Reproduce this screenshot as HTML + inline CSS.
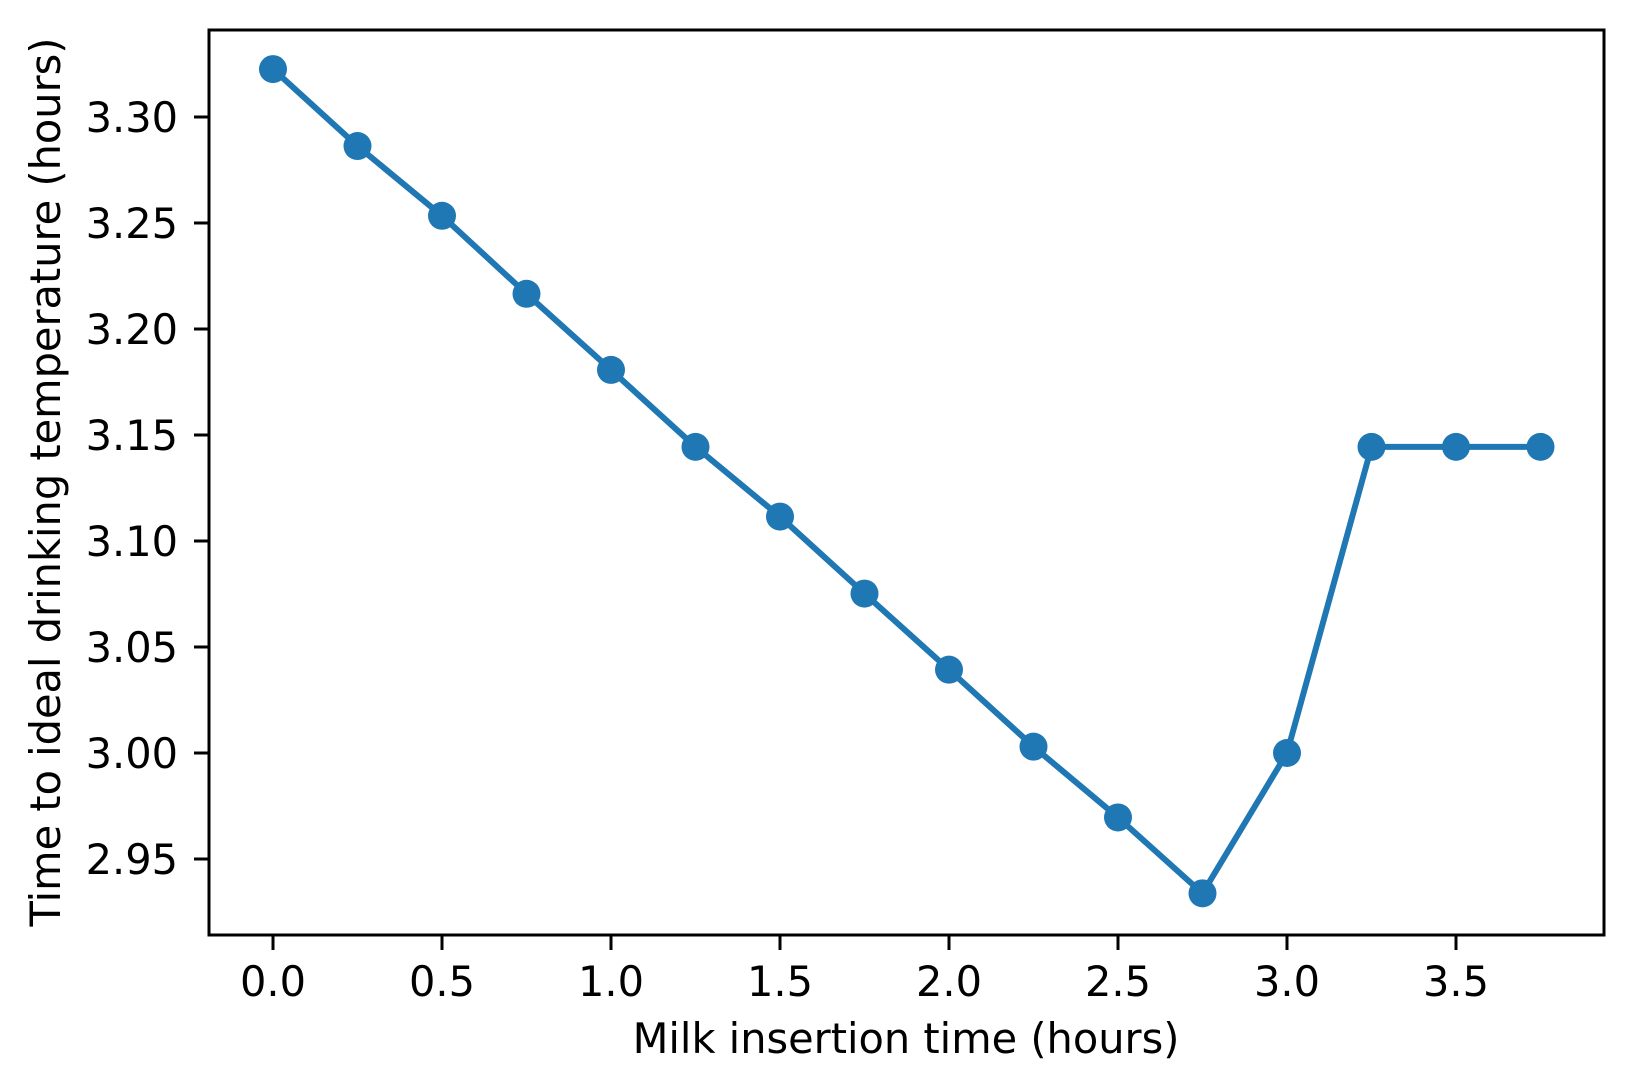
<!DOCTYPE html>
<html><head><meta charset="utf-8"><style>
body{margin:0;background:#fff;}
svg{display:block;font-family:"DejaVu Sans","Liberation Sans",sans-serif;}
</style></head><body>
<svg id="chart" width="1633" height="1091" viewBox="0 0 1633 1091" xmlns="http://www.w3.org/2000/svg">
<rect width="1633" height="1091" fill="#fff"/>
<g id="ticks"></g>
<g id="series"></g>
<rect x="209" y="30" width="1395" height="905" fill="none" stroke="#000" stroke-width="3"/>
<text x="906" y="1053" font-size="41.5" text-anchor="middle">Milk insertion time (hours)</text>
<text transform="translate(60,482) rotate(-90)" font-size="41.5" text-anchor="middle">Time to ideal drinking temperature (hours)</text>
</svg>
<script>
const xValues=[0,0.25,0.5,0.75,1.0,1.25,1.5,1.75,2.0,2.25,2.5,2.75,3.0,3.25,3.5,3.75];
const yValues=[3.3226,3.2863,3.2534,3.2166,3.1807,3.1444,3.1115,3.0752,3.0393,3.003,2.9696,2.9338,3.0,3.1444,3.1444,3.1444];
const xTicks=[0,0.5,1.0,1.5,2.0,2.5,3.0,3.5];
const xTickLabels=["0.0","0.5","1.0","1.5","2.0","2.5","3.0","3.5"];
const yTicks=[2.95,3.00,3.05,3.10,3.15,3.20,3.25,3.30];
const yTickLabels=["2.95","3.00","3.05","3.10","3.15","3.20","3.25","3.30"];
const NS="http://www.w3.org/2000/svg";
function sx(v){return 273+v*338;}
function sy(v){return 117+(3.30-v)*(859-117)/0.35;}
const tg=document.getElementById('ticks');
xTicks.forEach((t,i)=>{
  const l=document.createElementNS(NS,'line');
  
  
  l.setAttribute('x1',sx(t));l.setAttribute('x2',sx(t));l.setAttribute('y1',935);l.setAttribute('y2',950);
  l.setAttribute('stroke','#000');l.setAttribute('stroke-width','3');tg.appendChild(l);
  const tx=document.createElementNS(NS,'text');
  
  
  tx.setAttribute('x',sx(t));tx.setAttribute('y',996);tx.setAttribute('font-size','41.5');tx.setAttribute('text-anchor','middle');
  tx.textContent=xTickLabels[i];tg.appendChild(tx);
});
yTicks.forEach((t,i)=>{
  const l=document.createElementNS(NS,'line');
  
  
  l.setAttribute('x1',194);l.setAttribute('x2',209);l.setAttribute('y1',sy(t));l.setAttribute('y2',sy(t));
  l.setAttribute('stroke','#000');l.setAttribute('stroke-width','3');tg.appendChild(l);
  const tx=document.createElementNS(NS,'text');
  
  
  tx.setAttribute('x',178);tx.setAttribute('y',sy(t)+15);tx.setAttribute('font-size','41.5');tx.setAttribute('text-anchor','end');
  tx.textContent=yTickLabels[i];tg.appendChild(tx);
});
const sg=document.getElementById('series');
const pl=document.createElementNS(NS,'polyline');


pl.setAttribute('points',xValues.map((x,i)=>sx(x)+','+sy(yValues[i])).join(' '));
pl.setAttribute('fill','none');pl.setAttribute('stroke','#1f77b4');pl.setAttribute('stroke-width','6');pl.setAttribute('stroke-linejoin','round');
sg.appendChild(pl);
xValues.forEach((x,i)=>{
  const c=document.createElementNS(NS,'circle');
  
  
  c.setAttribute('cx',sx(x));c.setAttribute('cy',sy(yValues[i]));c.setAttribute('r','14');
  c.setAttribute('fill','#1f77b4');sg.appendChild(c);
});
</script>
</body></html>
